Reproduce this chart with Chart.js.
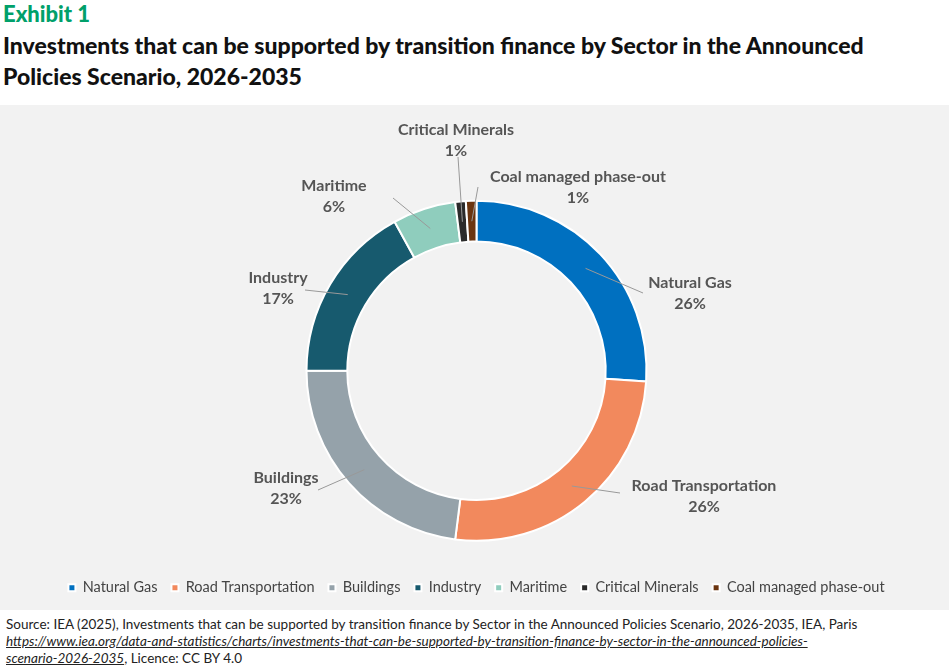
<!DOCTYPE html>
<html><head><meta charset="utf-8">
<script src="https://cdn.jsdelivr.net/npm/chart.js@4"></script>
<style>
body{margin:0;width:949px;height:670px;background:#fff;font-family:Lato,"Open Sans",sans-serif;position:relative;overflow:hidden}
#ex{position:absolute;left:3px;top:0px;font-size:22px;font-weight:900;color:#00A06A}
#t{position:absolute;left:3px;top:30px;font-size:23px;font-weight:900;color:#111;line-height:31px;width:870px}
#box{position:absolute;left:0;top:105px;width:949px;height:505px;background:#F2F2F2}
#src{position:absolute;left:6px;top:616px;font-size:13.5px;color:#222;line-height:17px;width:935px}
#src i{text-decoration:underline}
</style></head><body>
<div id="ex">Exhibit 1</div>
<div id="t">Investments that can be supported by transition finance by Sector in the Announced Policies Scenario, 2026-2035</div>
<div id="box"><canvas id="c" width="949" height="505"></canvas></div>
<div id="src">Source: IEA (2025), Investments that can be supported by transition finance by Sector in the Announced Policies Scenario, 2026-2035, IEA, Paris <i>https://www.iea.org/data-and-statistics/charts/investments-that-can-be-supported-by-transition-finance-by-sector-in-the-announced-policies-<br>scenario-2026-2035</i>, Licence: CC BY 4.0</div>
<script>
const categories=["Natural Gas","Road Transportation","Buildings","Industry","Maritime","Critical Minerals","Coal managed phase-out"];
const values=[26,26,23,17,6,1,1];
const colors=["#0070C0","#F2895D","#95A2AA","#175A6E","#8FCDBD","#2B2B2B","#6B3510"];
const labelPos={
"Natural Gas":[690,178],"Road Transportation":[704,381],"Buildings":[286,373],"Industry":[278,173],
"Maritime":[334,81],"Critical Minerals":[456,25],"Coal managed phase-out":[578,72]};
const lineEnd={"Natural Gas":[643,188],"Road Transportation":[620,388],"Buildings":[318,385],"Industry":[305,185],
"Maritime":[393,93],"Critical Minerals":[458,52],"Coal managed phase-out":[478,82]};
const labels={id:'lbl',afterDatasetsDraw(ch){
 const ctx=ch.ctx, meta=ch.getDatasetMeta(0);
 meta.data.forEach((a,i)=>{
  const n=categories[i], mid=(a.startAngle+a.endAngle)/2, r=(a.innerRadius+a.outerRadius)/2;
  const sx=a.x+Math.cos(mid)*r, sy=a.y+Math.sin(mid)*r, e=lineEnd[n], p=labelPos[n];
  ctx.save();ctx.strokeStyle='#999';ctx.lineWidth=1;ctx.beginPath();ctx.moveTo(sx,sy);ctx.lineTo(e[0],e[1]);ctx.stroke();
  ctx.fillStyle='#555';ctx.font='bold 16px Lato, "Open Sans", sans-serif';ctx.textAlign='center';ctx.textBaseline='middle';
  ctx.fillText(n,p[0],p[1]);ctx.fillText(values[i]+'%',p[0],p[1]+21);ctx.restore();
 });}};
new Chart(document.getElementById('c'),{type:'doughnut',
 data:{labels:categories,datasets:[{data:values,backgroundColor:colors,borderColor:'#fff',borderWidth:2,radius:170,cutout:'76%'}]},
 options:{responsive:false,animation:false,layout:{padding:{top:70,bottom:5,left:4}},
  plugins:{tooltip:{enabled:false},legend:{position:'bottom',labels:{boxWidth:7,boxHeight:7,padding:14,color:'#444',font:{size:14.5,family:'Lato, "Open Sans", sans-serif'}}}}},
 plugins:[labels]});
</script>
</body></html>
